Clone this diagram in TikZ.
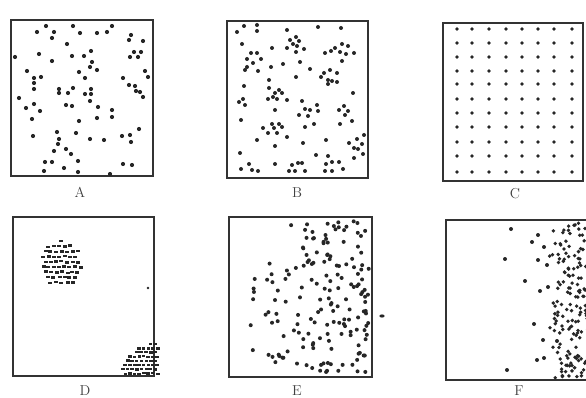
\documentclass[tikz,border=0pt]{standalone}
\begin{document}
\begin{tikzpicture}[x=1pt,y=-1pt,
  panel/.style={draw=black!80,line width=1.8pt},
  lbl/.style={font=\Large,inner sep=0pt,text=black!75},
  dot/.style={fill=black!85}]
\useasboundingbox (0,0) rectangle (586,398);
\fill[white] (0,0) rectangle (586,398);

% ---------- panels ----------
\draw[panel] (11,20) rectangle (153,176);
\draw[panel] (227,21) rectangle (368,178);
\draw[panel] (443,23) rectangle (583,181);
\draw[panel] (13,217) rectangle (154,376);
\draw[panel] (229,217) rectangle (372,377);
\draw[panel] (446,220) rectangle (592,380);

\node[lbl] (la) at (80,192) {A};
\node[lbl] (lb) at (297,193) {B};
\node[lbl] (lc) at (515,194) {C};
\node[lbl] (ld) at (85,391) {D};
\node[lbl] (le) at (297,391) {E};
\node[lbl] (lf) at (519,391) {F};

% ---------- A : random ----------
\foreach \p in {(46,26),(73,26),(112,26),(37,32),(54,32),(80,33),(97,33),(107,32),(52,38),(131,35),
(129,40),(143,41),(67,44),(91,51),(134,52),(141,52),(39,54),(72,56),(84,56),(15,57),(52,61),(130,57),
(138,57),(92,62),(90,67),(97,70),(27,71),(145,71),(79,72),(41,77),(34,78),(85,78),(123,78),(148,77),
(34,83),(129,85),(135,86),(34,89),(59,89),(73,88),(91,89),(136,91),(140,92),(59,93),(68,93),(85,94),
(91,94),(143,97),(19,98),(90,101),(34,104),(66,105),(72,106),(26,108),(40,111),(98,107),(112,110),
(32,119),(97,118),(112,117),(79,121),(139,129),(57,132),(76,133),(33,136),(122,136),(130,135),(90,139),
(104,140),(59,139),(58,144),(131,142),(66,149),(54,151),(71,154),(45,162),(52,162),(78,161),(64,168),
(123,164),(132,165),(44,171),(78,172),(110,174)}
  \fill[dot] \p circle (2.1);

% ---------- B : clustered ----------
\foreach \p in {(244,26),(257,25),(237,32),(257,31),(287,30),(318,27),(341,28),(290,40),(296,37),(299,41),
(242,44),(293,44),(297,46),(287,48),(304,49),(272,48),(342,44),(348,46),(335,48),(331,51),(325,53),(340,52),
(346,54),(354,53),(296,52),(251,53),(257,53),(261,59),(247,59),(253,63),(342,61),(300,62),(283,64),(271,67),
(247,67),(245,70),(258,71),(310,69),(330,70),(324,73),(337,73),(321,77),(328,80),(296,77),(269,80),(332,81),
(337,82),(328,84),(244,86),(269,88),(279,90),(353,93),(275,93),(282,93),(268,99),(273,97),(277,99),(243,99),
(239,102),(245,105),(287,100),(302,101),(317,105),(305,109),(310,110),(318,111),(344,106),(339,110),(348,111),
(299,115),(345,115),(275,110),(308,116),(241,120),(352,121),(305,127),(314,124),(340,124),(279,124),(263,128),
(272,124),(274,128),(282,127),(268,133),(277,133),(287,137),(275,146),(257,140),(303,143),(326,140),(364,135),
(357,139),(349,143),(362,144),(354,148),(358,149),(240,153),(363,154),(316,155),(328,156),(354,158),(332,162),
(339,162),(302,163),(249,164),(275,164),(292,165),(298,163),(326,164),(241,169),(252,170),(258,171),(289,171),
(295,171),(305,171),(325,171),(332,171),(343,169)}
  \fill[dot] \p circle (2.0);

% ---------- C : regular grid ----------
\foreach \cx in {457,472,489,506,522,538,554,572}
  \foreach \cy in {29,43,57,71,84,99,113,127,142,156,172}
    \fill[dot] (\cx,\cy) circle (1.9);

% ---------- D : two dense clumps ----------
\pgfmathsetseed{11}
\foreach \yy in {0,...,9} {
  \foreach \xx in {0,...,8} {
    \pgfmathsetmacro\px{40+\xx*5.4+mod(\yy,2)*2.7+rand*0.9}
    \pgfmathsetmacro\py{241+\yy*5.2+rand*0.7}
    \pgfmathtruncatemacro\ins{((\px-61)/20.5)^2+((\py-264)/23.5)^2<1 ? 1 : 0}
    \ifnum\ins=1 \fill[dot] (\px-2,\py-1.2) rectangle (\px+2,\py+1.2); \fi
  }
}
\foreach \yy in {0,...,7} {
  \foreach \xx in {0,...,7} {
    \pgfmathsetmacro\px{123+\xx*4.6+mod(\yy,2)*2.3+rand*0.5}
    \pgfmathsetmacro\py{344+\yy*4.2+rand*0.4}
    \pgfmathtruncatemacro\ins{((\px-155)/33)^2+((\py-377)/34)^2<1 ? 1 : 0}
    \ifnum\ins=1 \fill[dot] (\px-1.8,\py-1.1) rectangle (\px+1.8,\py+1.1); \fi
  }
}
\fill[dot] (148,288) circle (1.3);

% ---------- E : gradient to the right ----------
\pgfmathsetseed{23}
\foreach \i in {1,...,170} {
  \pgfmathsetmacro\ex{233+136*(rnd)^0.42}
  \pgfmathsetmacro\ey{221+152*rnd}
  \fill[dot] (\ex,\ey) circle (2.0);
}
\fill[dot] (382,316) ellipse (2.6 and 1.6);

% ---------- F : dense band at the right ----------
\foreach \p in {(511,229),(505,259),(525,281),(507,370),(538,235),(532,242),(544,247),(538,260),
(547,265),(540,291),(548,287),(534,324),(543,340),(557,341),(537,360),(544,358)}
  \fill[dot] \p circle (2.0);
\pgfmathsetseed{5}
\foreach \i in {1,...,150} {
  \pgfmathsetmacro\fx{548+40*(rnd)^0.7}
  \pgfmathsetmacro\fy{223+155*rnd}
  \fill[dot] (\fx,\fy) circle (1.9);
}
\end{tikzpicture}
\end{document}
